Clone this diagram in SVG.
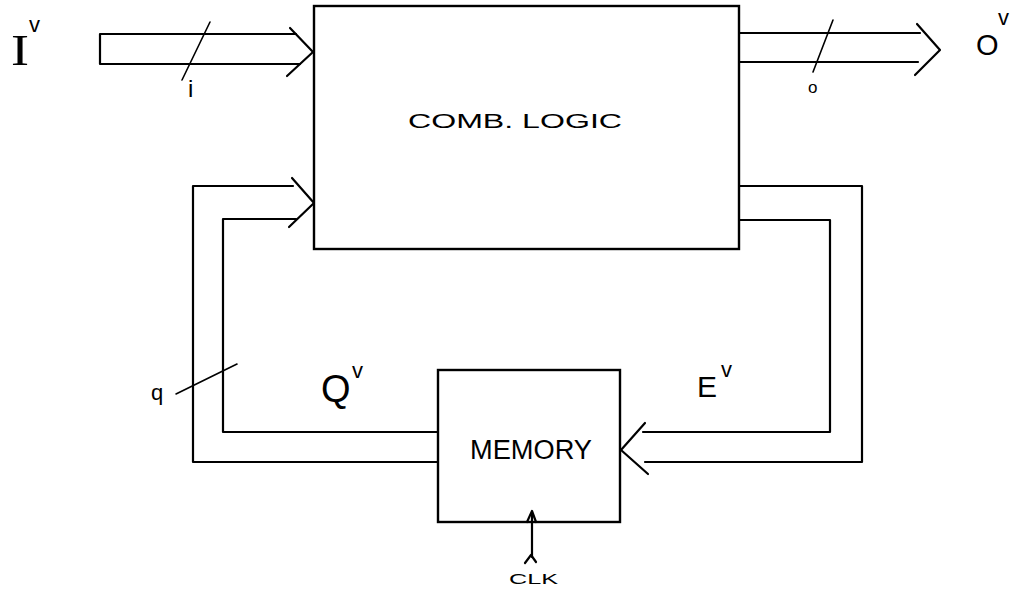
<svg xmlns="http://www.w3.org/2000/svg" width="1016" height="589" viewBox="0 0 1016 589">
<style>
.ln{fill:none;stroke:#000;stroke-width:2.2;stroke-linecap:round;stroke-linejoin:round}
.thin{fill:none;stroke:#000;stroke-width:1.6;stroke-linecap:round}
.box{fill:#fff;stroke:#000;stroke-width:2.4}
.t{font-family:"Liberation Sans",Arial,sans-serif;fill:#000}
.s{font-family:"Liberation Serif","Times New Roman",serif;fill:#000}
</style>
<rect width="1016" height="589" fill="#fff"/>
<g id="comb-logic">
  <rect class="box" x="314" y="6" width="425" height="243"/>
  <text class="t" x="408" y="128" font-size="20" textLength="214" lengthAdjust="spacingAndGlyphs">COMB.  LOGIC</text>
</g>
<g id="memory">
  <rect class="box" x="438" y="370" width="182" height="152"/>
  <text class="t" x="470" y="459" font-size="27" textLength="122" lengthAdjust="spacingAndGlyphs">MEMORY</text>
</g>
<g id="connectors">
  <!-- input bus I -->
  <path class="ln" d="M296 34 L100 34 L100 64 L300 64"/>
  <path class="ln" d="M290 28 L313 52 L287 76"/>
  <path class="thin" d="M182 80 L210 22"/>
  <!-- output bus O -->
  <path class="ln" d="M739 33 L920 33"/>
  <path class="ln" d="M739 62 L918 62"/>
  <path class="ln" d="M917 24 L940 50 L915 75"/>
  <path class="thin" d="M813 72 L833 20"/>
  <!-- Q feedback -->
  <path class="ln" d="M293 186 L193 186 L193 462 L438 462"/>
  <path class="ln" d="M296 219 L223 219 L223 432 L438 432"/>
  <path class="ln" d="M292 178 L314 203 L289 227"/>
  <path class="thin" d="M176 394 L237 364"/>
  <!-- E path -->
  <path class="ln" d="M739 186 L862 186 L862 462 L645 462"/>
  <path class="ln" d="M739 220 L830 220 L830 432 L643 432"/>
  <path class="ln" d="M645 423 L621 450 L648 474"/>
  <!-- CLK -->
  <path class="ln" d="M532 557 L532 513"/>
  <path class="ln" d="M527 522 L532 511 L536 522"/>
  <path class="ln" d="M525 563 L531 555 L536 562"/>
</g>
<g id="labels">
  <text class="s" x="11" y="65" font-size="44" textLength="18" lengthAdjust="spacingAndGlyphs">I</text>
  <text class="t" x="29" y="32" font-size="22">v</text>
  <text class="t" x="188" y="97" font-size="24">i</text>
  <text class="t" x="976" y="55" font-size="29">O</text>
  <text class="t" x="998" y="25" font-size="22">v</text>
  <text class="t" x="808" y="93" font-size="17">o</text>
  <text class="t" x="151" y="400" font-size="22">q</text>
  <text class="t" x="321" y="402" font-size="38">Q</text>
  <text class="t" x="352" y="378" font-size="22">v</text>
  <text class="t" x="697" y="397" font-size="30">E</text>
  <text class="t" x="721" y="377" font-size="22">v</text>
  <text class="t" x="509" y="584" font-size="14" textLength="49" lengthAdjust="spacingAndGlyphs">CLK</text>
</g>
</svg>
